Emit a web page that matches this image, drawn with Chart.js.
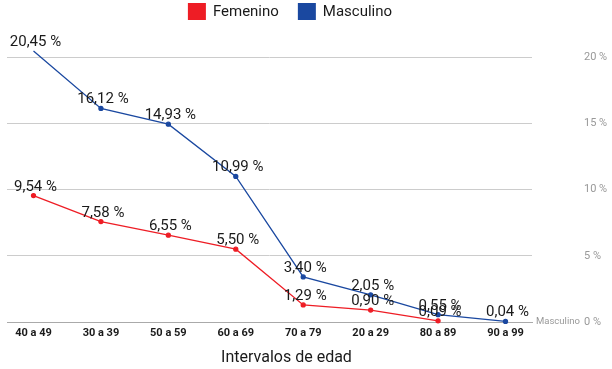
<!DOCTYPE html>
<html>
<head>
<meta charset="utf-8">
<script src="https://cdn.jsdelivr.net/npm/chart.js@4/dist/chart.umd.min.js"></script>
<style>
  html, body { margin: 0; padding: 0; background: #fff; }
  #wrap { width: 612px; height: 369px; }
</style>
</head>
<body>
<div id="wrap"><canvas id="myChart" width="612" height="369"></canvas></div>
<script>
const ageGroups = ["40 a 49", "30 a 39", "50 a 59", "60 a 69", "70 a 79", "20 a 29", "80 a 89", "90 a 99"];
const femenino = [9.54, 7.58, 6.55, 5.5, 1.29, 0.9, 0.09, null];
const masculino = [20.45, 16.12, 14.93, 10.99, 3.4, 2.05, 0.55, 0.04];
const yTicks = [0, 5, 10, 15, 20];
const xTitle = "Intervalos de edad";

const FONT = "Roboto, 'DejaVu Sans', sans-serif";
const RED = "#ee1d25";
const BLUE = "#1a48a0";

function toPoints(values) {
  return values.map((v, i) => ({ x: i, y: v }));
}

function fmt(v) {
  return v.toFixed(2).replace(".", ",") + " %";
}

// value labels above each point, plus the axis title and the small tag
const valueLabels = {
  id: "valueLabels",
  afterDatasetsDraw(chart) {
    const ctx = chart.ctx;
    ctx.save();
    ctx.font = "15px " + FONT;
    ctx.fillStyle = "#1a1a1a";
    ctx.textAlign = "center";
    ctx.textBaseline = "alphabetic";
    chart.data.datasets.forEach((ds, di) => {
      const meta = chart.getDatasetMeta(di);
      meta.data.forEach((pt, i) => {
        const v = ds.data[i].y;
        if (v === null || v === undefined) return;
        ctx.fillText(fmt(v), pt.x + 2, pt.y - 5);
      });
    });

    const area = chart.chartArea;
    // x axis title, sits a bit right of the plot centre like the original
    ctx.font = "16px " + FONT;
    ctx.textBaseline = "middle";
    ctx.fillText(xTitle, area.left + (area.right - area.left) / 2 + 17, 358);

    // small series tag at the right end of the baseline
    ctx.font = "9.5px " + FONT;
    ctx.fillStyle = "#999";
    ctx.textAlign = "left";
    ctx.fillText("Masculino", area.right + 4, chart.scales.y.getPixelForValue(0));
    ctx.restore();
  },
};

// legend drawn by hand so it sits where the reference has it
const topLegend = {
  id: "topLegend",
  afterDraw(chart) {
    const ctx = chart.ctx;
    ctx.save();
    ctx.font = "15px " + FONT;
    ctx.textBaseline = "middle";
    ctx.textAlign = "left";
    const items = chart.data.datasets.map((ds) => ({
      text: ds.label,
      color: ds.borderColor,
      w: 18 + 7 + ctx.measureText(ds.label).width,
    }));
    const gap = 19;
    const total = items.reduce((s, it) => s + it.w, 0) + gap * (items.length - 1);
    let x = 290 - total / 2;
    items.forEach((it) => {
      ctx.fillStyle = it.color;
      ctx.fillRect(x, 3, 18, 17);
      ctx.fillStyle = "#1a1a1a";
      ctx.fillText(it.text, x + 25, 12);
      x += it.w + gap;
    });
    ctx.restore();
  },
};

new Chart(document.getElementById("myChart"), {
  type: "line",
  data: {
    datasets: [
      {
        label: "Femenino",
        data: toPoints(femenino),
        borderColor: RED,
        backgroundColor: RED,
        borderWidth: 1.3,
        pointRadius: 2,
        pointHoverRadius: 2,
        clip: false,
      },
      {
        label: "Masculino",
        data: toPoints(masculino),
        borderColor: BLUE,
        backgroundColor: BLUE,
        borderWidth: 1.3,
        pointRadius: 2,
        pointHoverRadius: 2,
        clip: false,
      },
    ],
  },
  options: {
    responsive: false,
    animation: false,
    layout: { padding: { top: 57, left: 7, right: 0, bottom: 0 } },
    plugins: {
      legend: { display: false },
      tooltip: { enabled: false },
    },
    scales: {
      x: {
        type: "linear",
        min: -0.393,
        max: ageGroups.length - 1 + 0.393,
        afterBuildTicks: (scale) => {
          scale.ticks = ageGroups.map((_, i) => ({ value: i }));
        },
        afterFit: (scale) => {
          scale.height = 47;
          scale.paddingLeft = 0;
          scale.paddingRight = 0;
        },
        grid: { display: false, drawTicks: false },
        border: { display: true, color: "#aaa", width: 1 },
        ticks: {
          autoSkip: false,
          maxRotation: 0,
          padding: 5,
          color: "#1a1a1a",
          font: { family: FONT, size: 11, weight: "bold" },
          callback: (v) => ageGroups[v],
        },
        title: { display: false },
      },
      y: {
        position: "right",
        min: 0,
        max: 20,
        afterBuildTicks: (scale) => {
          scale.ticks = yTicks.map((v) => ({ value: v }));
        },
        afterFit: (scale) => {
          scale.width = 80;
          scale.paddingTop = 0;
          scale.paddingBottom = 0;
        },
        grid: { color: "#ccc", lineWidth: 1, drawTicks: false },
        border: { display: false },
        ticks: {
          padding: 52,
          color: "#999",
          font: { family: FONT, size: 11 },
          callback: (v) => v + " %",
        },
      },
    },
  },
  plugins: [valueLabels, topLegend],
});
</script>
</body>
</html>
